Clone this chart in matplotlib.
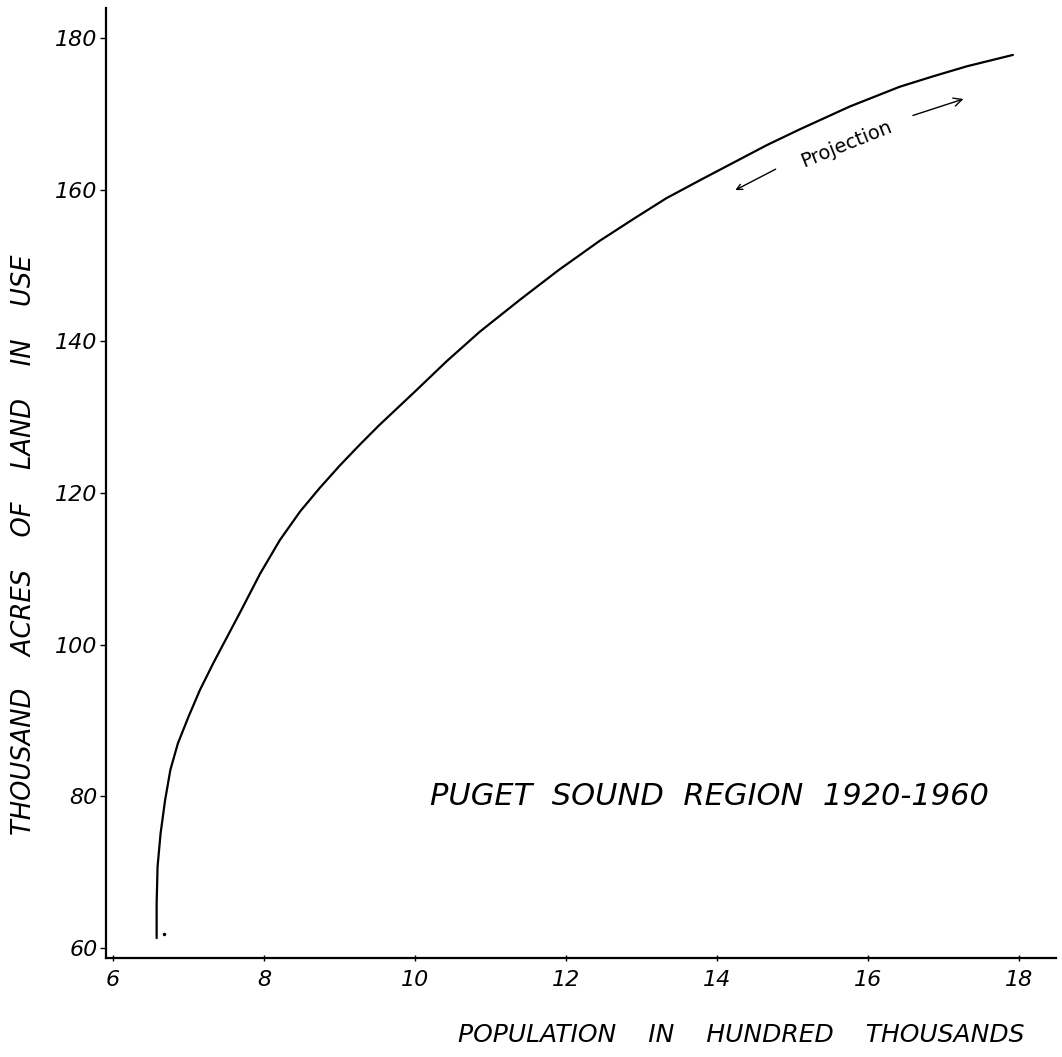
import numpy as np
import matplotlib.pyplot as plt

# curve (population in 100,000s, thousand acres)
pop = [6.578, 6.578, 6.59, 6.63, 6.69, 6.76, 6.86, 7.00, 7.15, 7.33, 7.42,
       7.68, 7.95, 8.21, 8.48, 8.74, 9.01, 9.27, 9.52, 10.00, 10.42, 10.86,
       11.39, 11.90, 12.45, 12.90, 13.33, 13.78, 14.22, 14.66, 15.10, 15.76,
       16.42, 16.87, 17.31, 17.92]
acres = [61.3, 65.9, 70.7, 75.1, 79.5, 83.5, 87.0, 90.5, 94.0, 97.6, 99.3,
         104.2, 109.4, 113.8, 117.6, 120.7, 123.7, 126.4, 128.9, 133.4, 137.4,
         141.3, 145.5, 149.4, 153.3, 156.2, 158.9, 161.3, 163.6, 165.9, 168.0,
         171.0, 173.6, 175.0, 176.3, 177.8]
dot = (6.68, 61.8)

xticks = [6, 8, 10, 12, 14, 16, 18]
yticks = [60, 80, 100, 120, 140, 160, 180]

plt.rcParams['font.family'] = ['DejaVu Sans']
plt.rcParams['font.style'] = 'italic'

fig = plt.figure(figsize=(10.62, 10.57), dpi=100)
ax = fig.add_axes([0.0998, 0.0937, 0.8945, 0.8988])

ax.plot(pop, acres, color='black', lw=1.6, solid_capstyle='round',
        solid_joinstyle='round')
ax.plot([dot[0]], [dot[1]], 'o', color='black', ms=1.5)

ax.set_xlim(5.907, 18.49)
ax.set_ylim(58.68, 184.0)
ax.spines['top'].set_visible(False)
ax.spines['right'].set_visible(False)
for s in ['left', 'bottom']:
    ax.spines[s].set_linewidth(1.6)

ax.set_xticks(xticks)
ax.set_yticks(yticks)
ax.set_xticklabels([str(v) for v in xticks], fontsize=16, style='italic')
ax.set_yticklabels([str(v) for v in yticks], fontsize=16, style='italic')
ax.tick_params(axis='y', direction='out', length=4, width=1, pad=2)
ax.tick_params(axis='x', direction='inout', length=5, width=1, pad=6)

# axis titles, hand lettered with wide spacing
fig.text(0.023, 0.485, 'THOUSAND    ACRES    OF    LAND    IN    USE',
         rotation=90, ha='center', va='center', fontsize=18.5, style='italic')
fig.text(0.698, 0.021, 'POPULATION    IN    HUNDRED    THOUSANDS',
         ha='center', va='center', fontsize=18, style='italic')

ax.text(13.9, 80.0, 'PUGET  SOUND  REGION  1920-1960', ha='center', va='center',
        fontsize=22, style='italic')

ax.text(15.72, 166.1, 'Projection', rotation=22, ha='center',
        va='center', fontsize=14, style='normal')
ax.annotate('', xy=(14.21, 159.8), xytext=(14.81, 162.9),
            arrowprops=dict(arrowstyle='->', lw=1, color='black'))
ax.annotate('', xy=(17.30, 172.1), xytext=(16.56, 169.7),
            arrowprops=dict(arrowstyle='->', lw=1, color='black',
                            mutation_scale=15))

fig.savefig('out.png', dpi=100)
